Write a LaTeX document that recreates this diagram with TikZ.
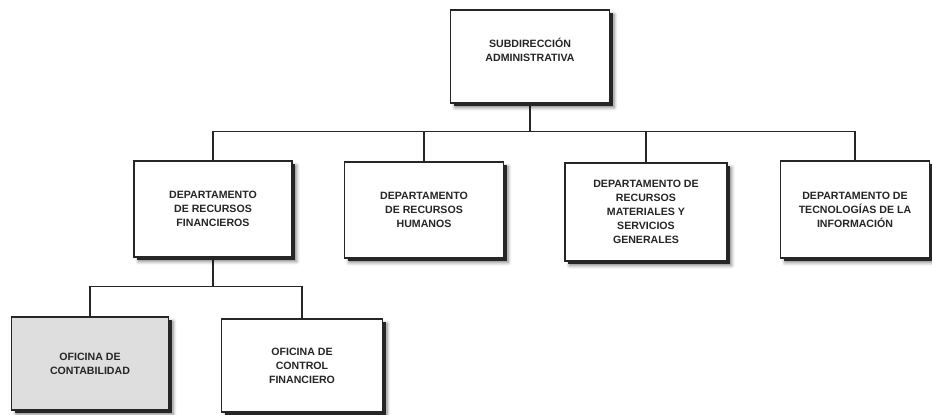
\documentclass[tikz,border=0pt]{standalone}
\usepackage{fontspec}
\setmainfont{Liberation Sans}
\usepackage{tikz}
\usetikzlibrary{shadows.blur, backgrounds}

\begin{document}
\begin{tikzpicture}[
    unit/.style={draw=black!85, line width=1.4pt, fill=white,
                 minimum width=158pt, minimum height=95pt,
                 font=\fontsize{10.6}{14}\selectfont\bfseries,
                 text=black!85, align=center, inner sep=0pt,
                 blur shadow={shadow xshift=4.5pt, shadow yshift=-4.5pt,
                   shadow blur radius=3.5pt, shadow blur steps=6,
                   shadow opacity=50},
                 general shadow={fill=black!85, shadow xshift=3pt,
                   shadow yshift=-3pt}},
    conn/.style={line width=1.3pt, black!85},
    x=1pt, y=-1pt
  ]
  \useasboundingbox (0,0) rectangle (932,415);

  \node[unit, minimum width=159pt, minimum height=93pt] (sub) at (530, 56.5)
    {SUBDIRECCIÓN\\ADMINISTRATIVA\\[-1pt]\mbox{}};

  \node[unit, minimum height=96pt] (drf) at (213, 209)
    {DEPARTAMENTO\\DE RECURSOS\\FINANCIEROS};
  \node[unit, minimum width=159pt, minimum height=96pt] (drh) at (424, 210)
    {DEPARTAMENTO\\DE RECURSOS\\HUMANOS};
  \node[unit, minimum width=162pt, minimum height=98pt] (drm) at (646, 212)
    {DEPARTAMENTO DE\\RECURSOS\\MATERIALES Y\\SERVICIOS\\GENERALES};
  \node[unit, minimum width=149pt, minimum height=97pt] (dti) at (855, 209.5)
    {DEPARTAMENTO DE\\TECNOLOGÍAS DE LA\\INFORMACIÓN};

  \node[unit, fill=black!13, minimum width=157pt, minimum height=93pt] (ocb)
    at (90, 363.5) {OFICINA DE\\CONTABILIDAD};
  \node[unit, minimum width=161pt, minimum height=93pt] (ocf)
    at (302, 365.5) {OFICINA DE\\CONTROL\\FINANCIERO};

  % connectors
  \coordinate (bus) at (0, 131.7);
  \coordinate (bus2) at (0, 286.7);
  \begin{scope}[on background layer]
    \draw[conn] (sub) -- (sub |- bus) -| (drf);
    \draw[conn] (sub) -- (sub |- bus) -| (drh);
    \draw[conn] (sub) -- (sub |- bus) -| (drm);
    \draw[conn] (sub) -- (sub |- bus) -| (dti);
    \draw[conn] (drf) -- (drf |- bus2) -| (ocb);
    \draw[conn] (drf) -- (drf |- bus2) -| (ocf);
  \end{scope}
\end{tikzpicture}
\end{document}
